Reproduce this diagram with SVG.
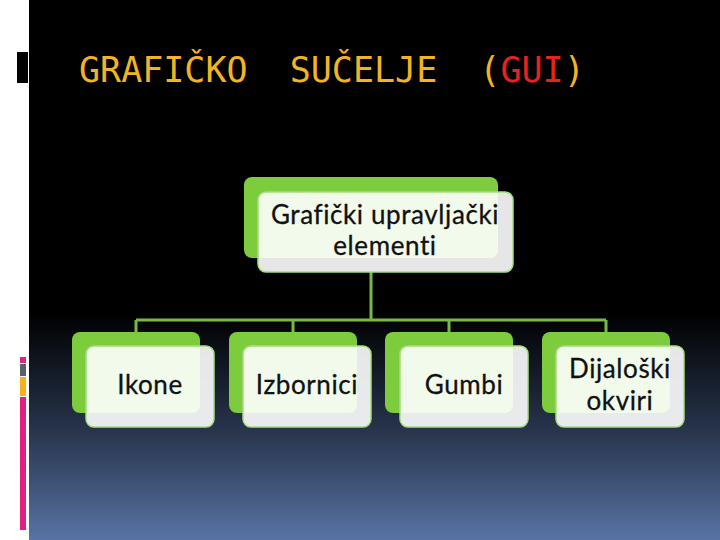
<svg xmlns="http://www.w3.org/2000/svg" width="720" height="540" viewBox="0 0 720 540">
<defs>
<linearGradient id="bg" x1="0" y1="0" x2="0" y2="540" gradientUnits="userSpaceOnUse">
<stop offset="0" stop-color="#000000"/>
<stop offset="0.58" stop-color="#000000"/>
<stop offset="0.8" stop-color="#28354d"/>
<stop offset="1" stop-color="#5873a5"/>
</linearGradient>
<style>
.back{fill:#7ccc3d;}
.front{fill:#ffffff;fill-opacity:0.9;stroke:#a6dc7e;stroke-width:1.5;}
.lbl{font-family:Lato,"Open Sans",sans-serif;font-size:26px;letter-spacing:0.6px;fill:#111111;stroke:#111111;stroke-width:0.3;text-anchor:middle;}
.conn{stroke:#7ab648;stroke-width:3;fill:none;}
.title{font-family:"DejaVu Sans Mono","Liberation Mono",monospace;font-size:35px;fill:#f0b424;}
</style>
</defs>
<rect x="0" y="0" width="720" height="540" fill="#ffffff"/>
<rect x="29" y="0" width="691" height="540" fill="url(#bg)"/>
<g id="decor">
<rect x="17" y="52" width="11" height="31" fill="#000000"/>
<rect x="20" y="357" width="6" height="6" fill="#e0217f"/>
<rect x="20" y="364" width="6" height="12" fill="#5a6068"/>
<rect x="20" y="377" width="6" height="19" fill="#f5b21c"/>
<rect x="20" y="397" width="6" height="133" fill="#e0217f"/>
</g>
<g id="title">
<text class="title" x="79" y="82" xml:space="preserve">GRAFIČKO  SUČELJE  (<tspan fill="#e8231f">GUI</tspan>)</text>
</g>
<g id="connectors">
<path class="conn" d="M371 272 V320 M136 320 H606 M136 320 V333 M293 320 V333 M449 320 V333 M606 320 V333"/>
</g>
<g id="root">
<rect class="back" x="244" y="177" width="254" height="81" rx="8"/>
<rect class="front" x="258" y="192" width="255" height="80" rx="8"/>
<text class="lbl" x="385" y="224">Grafički upravljački</text>
<text class="lbl" x="385" y="255">elementi</text>
</g>
<g id="ikone">
<rect class="back" x="72" y="332" width="128" height="81" rx="8"/>
<rect class="front" x="86" y="346" width="128" height="81" rx="8"/>
<text class="lbl" x="150" y="394">Ikone</text>
</g>
<g id="izbornici">
<rect class="back" x="229" y="332" width="128" height="81" rx="8"/>
<rect class="front" x="243" y="346" width="128" height="81" rx="8"/>
<text class="lbl" x="307" y="394">Izbornici</text>
</g>
<g id="gumbi">
<rect class="back" x="385" y="332" width="128" height="81" rx="8"/>
<rect class="front" x="400" y="346" width="128" height="81" rx="8"/>
<text class="lbl" x="464" y="394">Gumbi</text>
</g>
<g id="dijaloski">
<rect class="back" x="542" y="332" width="128" height="81" rx="8"/>
<rect class="front" x="556" y="346" width="128" height="81" rx="8"/>
<text class="lbl" x="620" y="378">Dijaloški</text>
<text class="lbl" x="620" y="410">okviri</text>
</g>
</svg>
